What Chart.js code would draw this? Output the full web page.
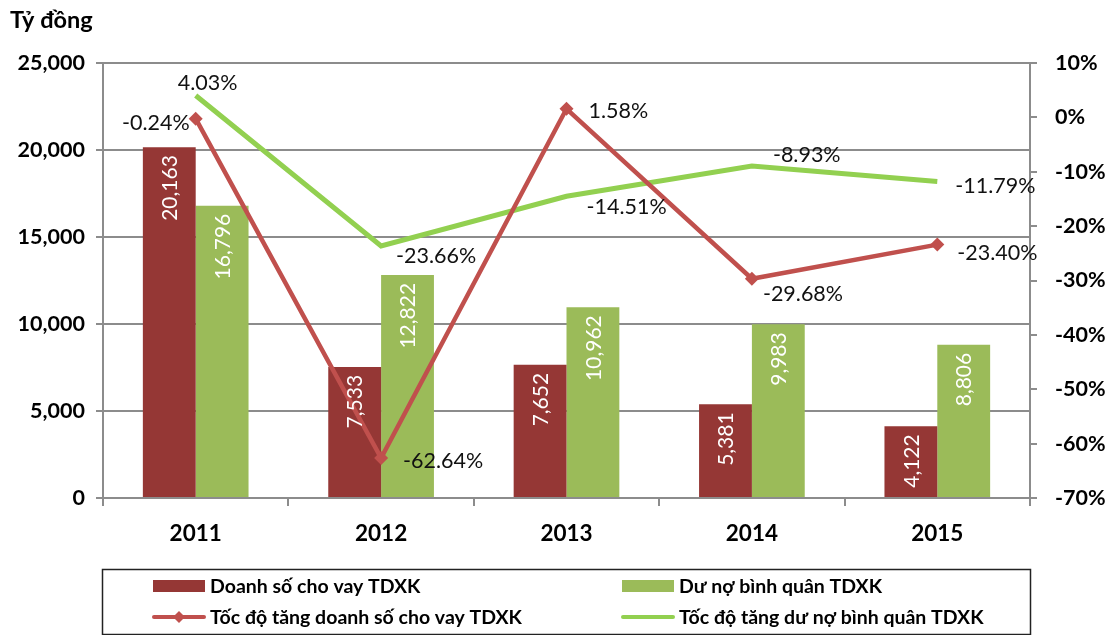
<!DOCTYPE html>
<html>
<head>
<meta charset="utf-8">
<script src="https://cdn.jsdelivr.net/npm/chart.js@4"></script>
<style>
  body { margin: 0; background: #fff; }
</style>
</head>
<body>
<canvas id="chart" width="1112" height="635"></canvas>
<script>
var years = ["2011", "2012", "2013", "2014", "2015"];
var doanhSo = [20163, 7533, 7652, 5381, 4122];
var duNo = [16796, 12822, 10962, 9983, 8806];
var tangDoanhSo = [-0.24, -62.64, 1.58, -29.68, -23.40];
var tangDuNo = [4.03, -23.66, -14.51, -8.93, -11.79];
var leftTicks = [0, 5000, 10000, 15000, 20000, 25000];
var rightTicks = [-70, -60, -50, -40, -30, -20, -10, 0, 10];

// where each line label sits next to its point
var redLabelPos = [
    { dx: -6, dy: 4, align: 'right' },
    { dx: 22, dy: 3, align: 'left' },
    { dx: 22, dy: 2, align: 'left' },
    { dx: 11, dy: 15, align: 'left' },
    { dx: 20, dy: 8, align: 'left' }
];
var greenLabelPos = [
    { dx: -18, dy: -12, align: 'left' },
    { dx: 15, dy: 10, align: 'left' },
    { dx: 20, dy: 11, align: 'left' },
    { dx: 21, dy: -11, align: 'left' },
    { dx: 18, dy: 5, align: 'left' }
];

var FONT = "Lato, 'Open Sans', sans-serif";
var GRID = '#8c8c8c';

function fmtNum(v) {
    return Number(v).toLocaleString('en-US');
}
function fmtPct(v) {
    return v.toFixed(2) + '%';
}

var labelsPlugin = {
    id: 'labels',
    afterDatasetsDraw: function(chart) {
        var ctx = chart.ctx;
        ctx.save();
        // bar values, white, rotated
        [0, 1].forEach(function(di) {
            var meta = chart.getDatasetMeta(di);
            var data = chart.data.datasets[di].data;
            meta.data.forEach(function(bar, i) {
                ctx.save();
                ctx.translate(bar.x, bar.y + 8);
                ctx.rotate(-Math.PI / 2);
                ctx.fillStyle = '#fff';
                ctx.font = '21px ' + FONT;
                ctx.textAlign = 'right';
                ctx.textBaseline = 'middle';
                ctx.fillText(fmtNum(data[i]), 0, 1);
                ctx.restore();
            });
        });
        // line labels
        var lines = [[2, redLabelPos], [3, greenLabelPos]];
        lines.forEach(function(l) {
            var meta = chart.getDatasetMeta(l[0]);
            var data = chart.data.datasets[l[0]].data;
            meta.data.forEach(function(pt, i) {
                var p = l[1][i];
                ctx.fillStyle = '#111';
                ctx.font = '21.5px ' + FONT;
                ctx.textAlign = p.align;
                ctx.textBaseline = 'middle';
                ctx.fillText(fmtPct(data[i]), pt.x + p.dx, pt.y + p.dy);
            });
        });
        ctx.restore();
    },
    afterDraw: function(chart) {
        var ctx = chart.ctx;
        ctx.save();
        // unit title
        ctx.fillStyle = '#000';
        ctx.font = 'bold 23.5px ' + FONT;
        ctx.textAlign = 'left';
        ctx.textBaseline = 'alphabetic';
        ctx.fillText('Tỷ đồng', 10, 28);

        // legend box
        ctx.strokeStyle = '#222';
        ctx.lineWidth = 1.5;
        ctx.strokeRect(102.5, 569.5, 928, 65);
        var ds = chart.data.datasets;
        var cols = [153, 622];
        var rows = [586, 617];
        var items = [
            { d: 0, c: 0, r: 0, type: 'box' },
            { d: 1, c: 1, r: 0, type: 'box' },
            { d: 2, c: 0, r: 1, type: 'line', marker: true },
            { d: 3, c: 1, r: 1, type: 'line' }
        ];
        items.forEach(function(it) {
            var x = cols[it.c], y = rows[it.r];
            var d = ds[it.d];
            if (it.type === 'box') {
                ctx.fillStyle = d.backgroundColor;
                ctx.fillRect(x, y - 6, 52, 12);
            } else {
                ctx.strokeStyle = d.borderColor;
                ctx.lineWidth = 4;
                ctx.lineCap = 'round';
                ctx.beginPath();
                ctx.moveTo(x + 1, y);
                ctx.lineTo(x + 51, y);
                ctx.stroke();
                if (it.marker) {
                    ctx.fillStyle = d.borderColor;
                    ctx.beginPath();
                    ctx.moveTo(x + 26, y - 6);
                    ctx.lineTo(x + 32, y);
                    ctx.lineTo(x + 26, y + 6);
                    ctx.lineTo(x + 20, y);
                    ctx.closePath();
                    ctx.fill();
                }
            }
            ctx.fillStyle = '#000';
            ctx.font = 'bold 19.5px ' + FONT;
            ctx.textAlign = 'left';
            ctx.textBaseline = 'middle';
            ctx.fillText(d.label, x + 57, y + 1);
        });
        ctx.restore();
    }
};

var ctx = document.getElementById('chart');
var chart = new Chart(ctx, {
    type: 'bar',
    data: {
        labels: years,
        datasets: [
            {
                label: 'Doanh số cho vay TDXK',
                data: doanhSo,
                backgroundColor: '#953735',
                yAxisID: 'y',
                order: 2
            },
            {
                label: 'Dư nợ bình quân TDXK',
                data: duNo,
                backgroundColor: '#9BBB59',
                yAxisID: 'y',
                order: 2
            },
            {
                type: 'line',
                label: 'Tốc độ tăng doanh số cho vay TDXK',
                data: tangDoanhSo,
                borderColor: '#C0504D',
                backgroundColor: '#C0504D',
                borderWidth: 4.5,
                pointStyle: 'rectRot',
                pointRadius: 7,
                pointBorderWidth: 0,
                tension: 0,
                yAxisID: 'y1',
                order: 0
            },
            {
                type: 'line',
                label: 'Tốc độ tăng dư nợ bình quân TDXK',
                data: tangDuNo,
                borderColor: '#92D050',
                backgroundColor: '#92D050',
                borderWidth: 5,
                pointRadius: 0,
                tension: 0,
                yAxisID: 'y1',
                order: 1
            }
        ]
    },
    options: {
        responsive: false,
        devicePixelRatio: 1,
        animation: false,
        layout: { padding: { top: 63, bottom: 67, left: 0, right: 0 } },
        datasets: {
            bar: { barPercentage: 1, categoryPercentage: 0.57 }
        },
        plugins: {
            legend: { display: false },
            tooltip: { enabled: false }
        },
        scales: {
            x: {
                offset: true,
                grid: {
                    offset: true,
                    drawOnChartArea: false,
                    color: GRID,
                    lineWidth: 2,
                    tickLength: 8
                },
                border: { color: GRID, width: 2 },
                ticks: {
                    color: '#000',
                    padding: 14,
                    font: { family: FONT, size: 22.5, weight: 'bold' }
                },
                afterFit: function(s) { s.height = 70; }
            },
            y: {
                position: 'left',
                min: 0,
                max: 25000,
                afterBuildTicks: function(s) {
                    s.ticks = leftTicks.map(function(v) { return { value: v }; });
                },
                grid: {
                    color: GRID,
                    lineWidth: 2,
                    tickLength: 7
                },
                border: { color: GRID, width: 2 },
                ticks: {
                    color: '#000',
                    padding: 11,
                    font: { family: FONT, size: 21.5, weight: 'bold' },
                    callback: function(v) { return fmtNum(v); }
                },
                afterFit: function(s) { s.width = 103; }
            },
            y1: {
                position: 'right',
                min: -70,
                max: 10,
                afterBuildTicks: function(s) {
                    s.ticks = rightTicks.map(function(v) { return { value: v }; });
                },
                grid: {
                    drawOnChartArea: false,
                    color: GRID,
                    lineWidth: 2,
                    tickLength: 7
                },
                border: { color: GRID, width: 2 },
                ticks: {
                    color: '#000',
                    padding: 18,
                    font: { family: FONT, size: 21.5, weight: 'bold' },
                    callback: function(v) { return v + '%'; }
                },
                afterFit: function(s) { s.width = 82; }
            }
        }
    },
    plugins: [labelsPlugin]
});
</script>
</body>
</html>
